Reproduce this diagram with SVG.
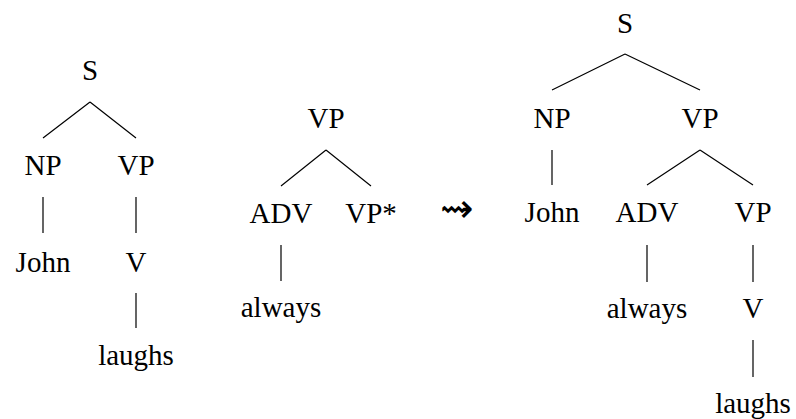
<svg xmlns="http://www.w3.org/2000/svg" width="796" height="419" viewBox="0 0 796 419">
<style>
text{font-family:"Liberation Serif","Times New Roman",serif;font-size:29px;fill:#000;text-anchor:middle}
.e{stroke:#000;stroke-width:1.2;fill:none}
.sym{font-family:"DejaVu Sans",sans-serif;font-size:40px}
</style>
<rect width="796" height="419" fill="#fff"/>
<g id="edges">
<path class="e" d="M90,102L43,138M90,102L136,138M43,197V233M136,197V233M136,293V328"/>
<path class="e" d="M326,150L281,186M326,150L371,186M281,245V281"/>
<path class="e" d="M625,54L552,90M625,54L700,90M552,150V185M700,150L647,185M700,150L753,185M647,245V282M753,245V282M753,340V377"/>
</g>
<g id="t1-S"><text x="90" y="80">S</text></g>
<g id="t1-NP"><text x="43" y="175">NP</text></g>
<g id="t1-VP"><text x="136" y="175">VP</text></g>
<g id="t1-John"><text x="43" y="272">John</text></g>
<g id="t1-V"><text x="136" y="272">V</text></g>
<g id="t1-laughs"><text x="136" y="365">laughs</text></g>
<g id="t2-VP"><text x="326" y="128">VP</text></g>
<g id="t2-ADV"><text x="281" y="223">ADV</text></g>
<g id="t2-VPstar"><text x="371" y="223">VP*</text></g>
<g id="t2-always"><text x="281" y="317">always</text></g>
<g id="arrow"><text class="sym" x="457" y="222">⇝</text></g>
<g id="t3-S"><text x="625" y="33">S</text></g>
<g id="t3-NP"><text x="552" y="128">NP</text></g>
<g id="t3-VP"><text x="700" y="128">VP</text></g>
<g id="t3-John"><text x="552" y="222">John</text></g>
<g id="t3-ADV"><text x="647" y="222">ADV</text></g>
<g id="t3-VP2"><text x="753" y="222">VP</text></g>
<g id="t3-always"><text x="647" y="318">always</text></g>
<g id="t3-V"><text x="753" y="318">V</text></g>
<g id="t3-laughs"><text x="753" y="413">laughs</text></g>
</svg>
